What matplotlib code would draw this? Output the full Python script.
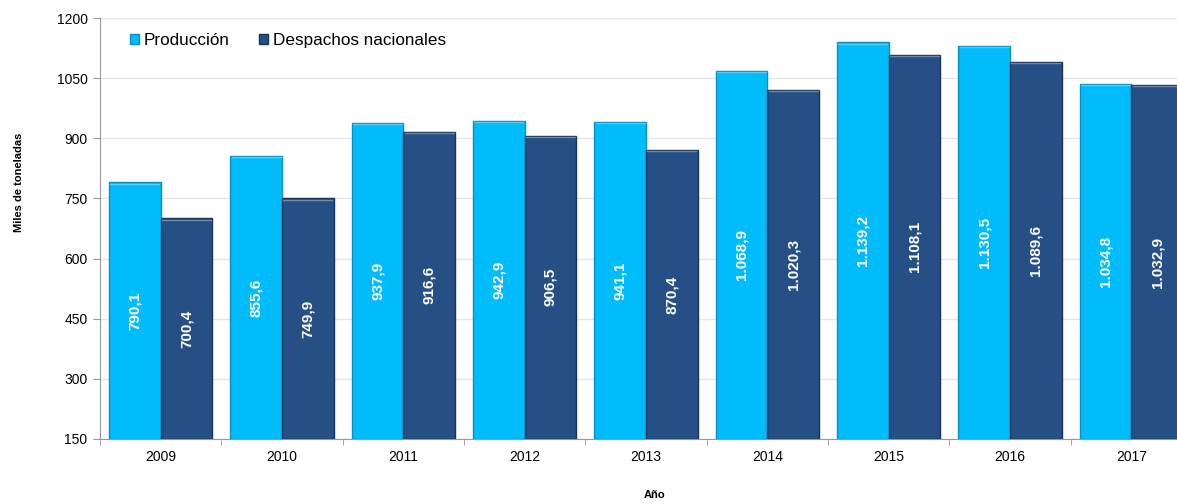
import matplotlib
matplotlib.use("Agg")
import matplotlib.pyplot as plt
import numpy as np

plt.rcParams['font.family'] = ['Liberation Sans', 'DejaVu Sans']

years = ["2009", "2010", "2011", "2012", "2013", "2014", "2015", "2016", "2017"]
produccion = [790.1, 855.6, 937.9, 942.9, 941.1, 1068.9, 1139.2, 1130.5, 1034.8]
despachos = [700.4, 749.9, 916.6, 906.5, 870.4, 1020.3, 1108.1, 1089.6, 1032.9]
series_names = ["Producción", "Despachos nacionales"]
yticks = [150, 300, 450, 600, 750, 900, 1050, 1200]

light = "#00BCFB"
dark = "#254F85"


def fmt(v):
    # Spanish style: thousands with dot, decimal with comma
    s = f"{v:,.1f}"
    return s.replace(",", "X").replace(".", ",").replace("X", ".")


fig = plt.figure(figsize=(11.77, 5.04), dpi=100)
ax = fig.add_axes([100 / 1177, 65 / 504, 1092 / 1177, 421 / 504])

x = np.arange(len(years))
w = 0.425
base = 150
b1 = ax.bar(x - w / 2, np.array(produccion) - base, w, bottom=base,
            color=light, edgecolor="#0A8FC0", linewidth=1.0, zorder=3)
b2 = ax.bar(x + w / 2, np.array(despachos) - base, w, bottom=base,
            color=dark, edgecolor="#17345C", linewidth=1.0, zorder=3)

for bars, vals in ((b1, produccion), (b2, despachos)):
    for rect, v in zip(bars, vals):
        cx = rect.get_x() + rect.get_width() / 2
        ax.text(cx, (base + v) / 2, fmt(v), rotation=90, color="white",
                fontsize=11, fontweight="bold", ha="center", va="center", zorder=4)
        # thin highlight on top of each bar
        ax.plot([rect.get_x() + 0.01, rect.get_x() + rect.get_width() - 0.01],
                [v - 3, v - 3], color="white", alpha=0.35, linewidth=1, zorder=4)

ax.set_xlim(-0.5, len(years) - 0.5)
ax.set_ylim(150, 1200)
ax.set_yticks(yticks)
ax.set_yticklabels([str(t) for t in yticks], fontsize=10)
ax.set_xticks(x)
ax.set_xticklabels(years, fontsize=10)
ax.set_xticks(np.arange(len(years) + 1) - 0.5, minor=True)
ax.tick_params(axis="x", which="major", length=0, pad=8)
ax.tick_params(axis="x", which="minor", length=4, color="#999999")
ax.tick_params(axis="y", length=5, color="#999999", pad=4)

ax.grid(axis="y", color="#E6E6E6", linewidth=1, zorder=0)
for side in ("top", "right"):
    ax.spines[side].set_visible(False)
ax.spines["left"].set_color("#999999")
ax.spines["bottom"].set_color("#999999")

fig.text(19 / 1177, 1 - 182 / 504, "Miles de toneladas", rotation=90, fontsize=8,
         fontweight="bold", ha="center", va="center")
fig.text(655 / 1177, 1 - 495 / 504, "Año", fontsize=8, fontweight="bold",
         ha="center", va="center")

leg = ax.legend([b1, b2], series_names, loc="upper left", bbox_to_anchor=(0.013, 1.0),
                ncol=2, frameon=False, fontsize=12.3, handlelength=0.55, handleheight=0.55,
                handletextpad=0.25, columnspacing=1.75)

fig.savefig("out.png", dpi=100)
